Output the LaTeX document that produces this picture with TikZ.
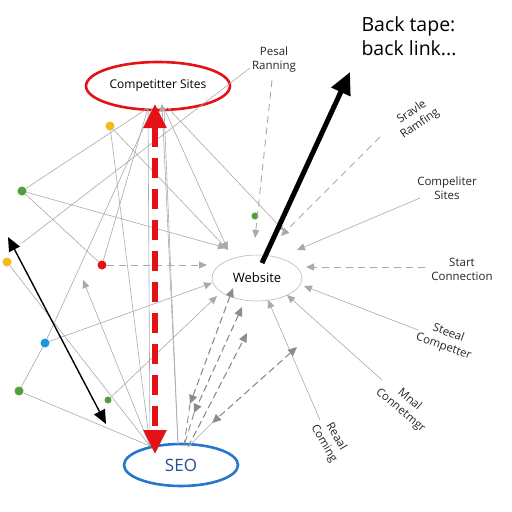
\documentclass[tikz,border=0pt]{standalone}
\usepackage{fontspec}
\setmainfont{Open Sans}
\usetikzlibrary{shapes.geometric,arrows.meta}
\definecolor{cred}{RGB}{228,18,22}
\definecolor{cblue}{RGB}{38,118,206}
\definecolor{cseo}{RGB}{40,78,150}
\definecolor{cyel}{RGB}{240,188,24}
\definecolor{cgreen}{RGB}{80,160,60}
\definecolor{cdotblue}{RGB}{30,150,220}
\definecolor{cline}{RGB}{170,170,170}
\definecolor{cdash}{RGB}{140,140,140}
\begin{document}
\begin{tikzpicture}[x=1pt,y=-1pt,
  ell/.style={ellipse,inner sep=0pt},
  dotnode/.style={circle,inner sep=0pt,minimum size=9pt,fill=#1},
  lbl/.style={align=center,font=\fontsize{11.5}{14}\selectfont,text=black!85,inner sep=1pt},
  link/.style={draw=cline,line width=0.6pt},
  alink/.style={link,-{Triangle[length=8pt,width=7pt]}},
  dlink/.style={draw=cline,line width=0.9pt,dash pattern=on 7pt off 5pt},
  adlink/.style={dlink,-{Triangle[length=8pt,width=7pt]}},
  ddarr/.style={draw=cdash,line width=1.1pt,dash pattern=on 7pt off 4pt,{Triangle[length=9pt,width=8pt]}-{Triangle[length=9pt,width=8pt]}},
  udarr/.style={draw=cdash,line width=1.1pt,dash pattern=on 7pt off 4pt,-{Triangle[length=9pt,width=8pt]}}
]
\useasboundingbox (0,0) rectangle (512,512);
\fill[white] (0,0) rectangle (512,512);

% main ellipses
\node[ell,draw=cred,line width=2.6pt,minimum width=144pt,minimum height=48pt,font=\fontsize{12}{14}\selectfont] (comp) at (158,86) {Competitter Sites};
\node[ell,draw=cblue,line width=2.6pt,minimum width=114pt,minimum height=42pt,text=cseo,font=\fontsize{17}{19}\selectfont] (seo) at (181,465) {SEO};
\node[ell,draw=gray!55,line width=0.6pt,minimum width=90pt,minimum height=46pt,font=\fontsize{13}{15}\selectfont] (web) at (257,278) {Website};

% labels
\node[lbl] (pesal) at (274,60) {Pesal\\Ranning};
\node[align=left,anchor=west,font=\fontsize{19.5}{24}\selectfont] (back) at (358,36) {Back tape:\\back link...};
\node[lbl,rotate=35] (sravle) at (416,118) {Sravle\\Ramfing};
\node[lbl] (csites) at (447,188) {Compeliter\\Sites};
\node[lbl] (start) at (462,269) {Start\\Connection};
\node[lbl,rotate=-20] (steeal) at (446,340) {Steeal\\Competter};
\node[lbl,rotate=-40] (mnal) at (405,405) {Mnal\\Connetmgr};
\node[lbl,rotate=-60] (reaal) at (330,440) {Reaal\\Coming};

% dots
\node[dotnode=cyel] (y1) at (110,126) {};
\node[dotnode=cgreen] (g1) at (22,191) {};
\node[dotnode=cyel] (y2) at (7,262) {};
\node[dotnode=cred] (rd) at (102,265) {};
\node[dotnode=cdotblue] (bl) at (45,343) {};
\node[dotnode=cgreen] (g2) at (19,391) {};
\node[dotnode=cgreen,minimum size=7pt] (g3) at (108,400) {};
\node[dotnode=cgreen,minimum size=7pt] (g4) at (255,216) {};

% named connector ends
\coordinate (cA) at (148,108);
\coordinate (cB) at (152,109);
\coordinate (cC) at (164,108);
\coordinate (cD) at (167,107);
\coordinate (cTip) at (162,104);
\coordinate (sA) at (150,446);
\coordinate (sB) at (178,444);
\coordinate (sC) at (184,446);
\coordinate (sD) at (188,447);
\coordinate (freeL) at (22,243);
\coordinate (upArr) at (83,280);
\coordinate (wTL) at (228,250);
\coordinate (wTL2) at (226,248);
\coordinate (wT) at (255,238);
\coordinate (wTR) at (281,236);
\coordinate (wTR2) at (284,231);
\coordinate (wR1) at (297,250);
\coordinate (wR2) at (306,267);
\coordinate (wR3) at (304,286);
\coordinate (wBR) at (287,295);
\coordinate (wB) at (268,300);
\coordinate (wBL) at (217,296);
\coordinate (wL) at (207,265);
\coordinate (wL2) at (212,283);
\coordinate (pS) at (272,80);
\coordinate (pL) at (250,68);
\coordinate (sE) at (380,137);
\coordinate (csE) at (420,198);
\coordinate (stE) at (425,267);
\coordinate (stlE) at (418,330);
\coordinate (mnE) at (382,380);
\coordinate (reE) at (320,420);

% thin grey connectors
\draw[link] (pL) -- (freeL);
\draw[adlink] (pS) -- (wT);
\draw[adlink] (sE) -- (wTR);
\draw[alink] (csE) -- (wR1);
\draw[adlink] (stE) -- (wR2);
\draw[alink] (stlE) -- (wR3);
\draw[alink] (mnE) -- (wBR);
\draw[alink] (reE) -- (wB);

\draw[link] (cA) -- (g1);
\draw[link] (cA) -- (rd);
\draw[link] (cB) -- (bl);
\draw[link] (cA) -- (sA);
\draw[link] (cC) -- (sB);
\draw[alink] (cC) -- (wTL);
\draw[alink] (cD) -- (wTR2);
\draw[link,-{Triangle[length=7pt,width=6pt]}] (sB) -- (cTip);

\draw[alink] (y1) -- (wTL);
\draw[link] (y1) -- (sA);
\draw[alink] (g1) -- (wTL2);
\draw[link] (g1) -- (rd);
\draw[adlink] (rd) -- (wL);
\draw[alink] (bl) -- (wL2);
\draw[link] (bl) -- (g2);
\draw[link] (g2) -- (sA);
\draw[link] (y2) -- (sA);
\draw[alink] (g3) -- (wBL);
\draw[alink] (sA) -- (upArr);

% dashed double arrows between SEO and Website
\coordinate (u1) at (233,288);
\coordinate (u2) at (242,307);
\coordinate (u3) at (247,333);
\coordinate (u4) at (297,347);
\coordinate (l1) at (190,404);
\coordinate (l2) at (194,413);
\coordinate (l4) at (212,423);
\draw[ddarr] (u1) -- (l1);
\draw[ddarr] (u2) -- (l2);
\draw[ddarr] (u4) -- (l4);
\draw[udarr] (sD) -- (u3);
\draw[dlink,draw=cdash] (l1) -- (sC);
\draw[dlink,draw=cdash] (l2) -- (sC);
\draw[link] (l4) -- (sD);

% big red dashed arrow
\coordinate (rTop) at (155,104);
\coordinate (rBot) at (155,454);
\draw[cred,line width=5.5pt,dash pattern=on 20pt off 11pt,{Triangle[length=24pt,width=22pt]}-{Triangle[length=24pt,width=22pt]}] (rTop) -- (rBot);

% black arrows
\coordinate (bkS) at (262,263);
\coordinate (bkE) at (350,72);
\draw[black,line width=5pt,-{Triangle[length=22pt,width=20pt]}] (bkS) -- (bkE);
\coordinate (tA) at (8,237);
\coordinate (tB) at (106,424);
\draw[black,line width=1.4pt,{Triangle[length=14pt,width=12pt]}-{Triangle[length=14pt,width=12pt]}] (tA) -- (tB);
\end{tikzpicture}
\end{document}
